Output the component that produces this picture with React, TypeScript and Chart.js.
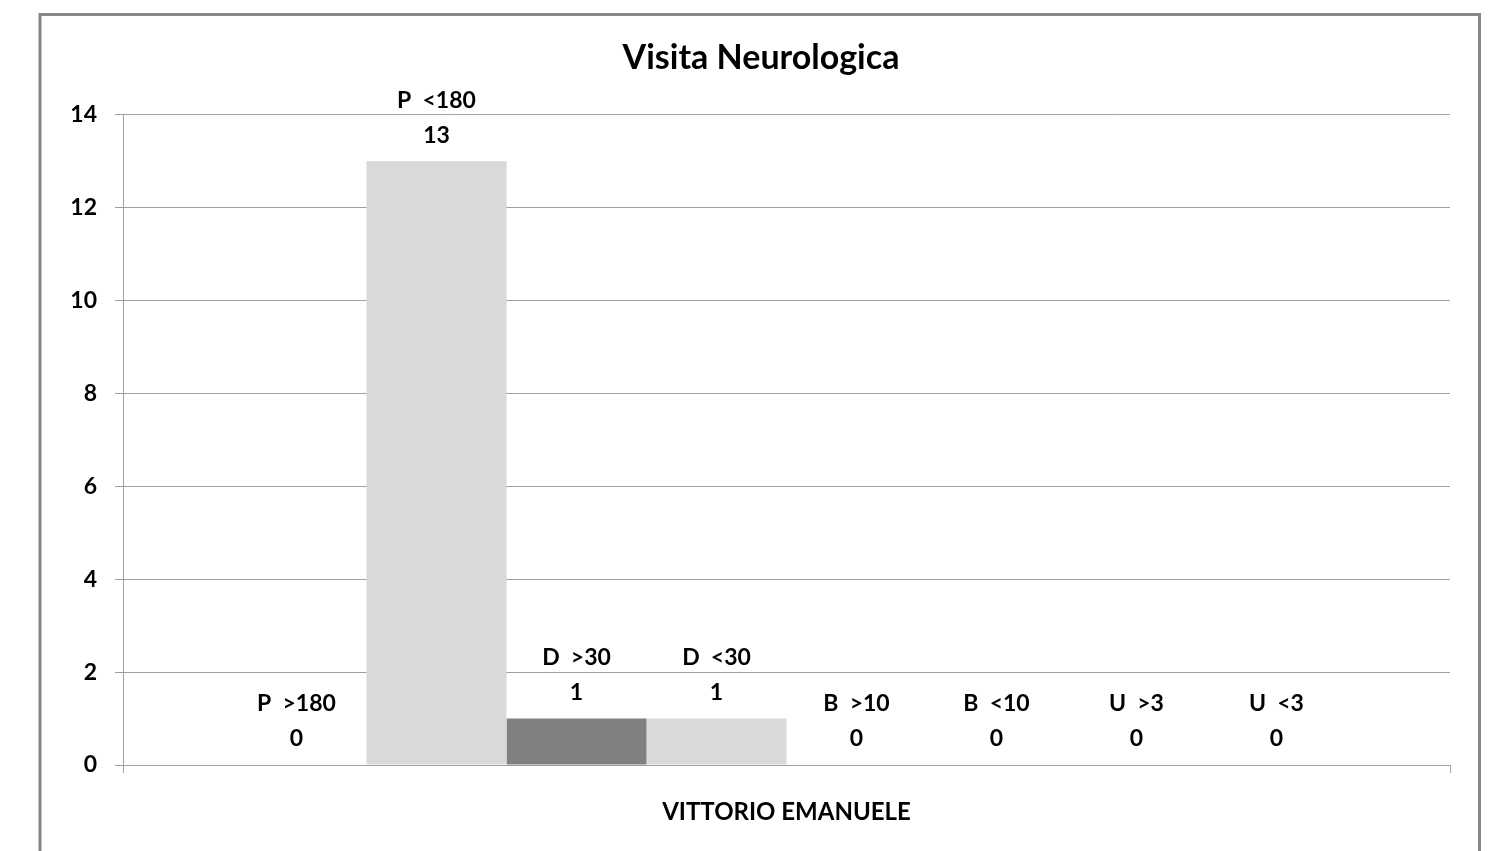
import React, { useEffect, useRef } from "react";
import { Chart, registerables } from "chart.js";

Chart.register(...registerables);

const categories = ["VITTORIO EMANUELE"];
const seriesNames = ["P  >180", "P  <180", "D  >30", "D  <30", "B  >10", "B  <10", "U  >3", "U  <3"];
const seriesValues = [0, 13, 1, 1, 0, 0, 0, 0];
const seriesColors = ["#d9d9d9", "#d9d9d9", "#808080", "#d9d9d9", "#d9d9d9", "#d9d9d9", "#d9d9d9", "#d9d9d9"];
const yTicks = [0, 2, 4, 6, 8, 10, 12, 14];
const chartTitle = "Visita Neurologica";

const FONT = "Lato";

const framePlugin = {
  id: "frame",
  beforeDraw(chart: any) {
    const ctx = chart.ctx;
    ctx.save();
    ctx.fillStyle = "#ffffff";
    ctx.fillRect(0, 0, chart.width, chart.height);
    ctx.strokeStyle = "#878787";
    ctx.lineWidth = 3;
    ctx.strokeRect(40, 14.5, 1439.5, 900);
    ctx.restore();
  },
};

const labelPlugin = {
  id: "barLabels",
  afterDatasetsDraw(chart: any) {
    const ctx = chart.ctx;
    ctx.save();
    ctx.fillStyle = "#000000";
    ctx.textAlign = "center";
    ctx.textBaseline = "middle";
    ctx.font = `bold 23px ${FONT}`;
    chart.data.datasets.forEach((ds: any, i: number) => {
      const meta = chart.getDatasetMeta(i);
      const el = meta.data[0];
      if (!el) return;
      ctx.fillText(String(ds.label), el.x, el.y - 61);
      ctx.fillText(String(ds.data[0]), el.x, el.y - 26);
    });
    ctx.restore();
  },
};

export default function App() {
  const canvasRef = useRef<HTMLCanvasElement | null>(null);

  useEffect(() => {
    if (!canvasRef.current) return;
    const chart = new Chart(canvasRef.current, {
      type: "bar",
      data: {
        labels: categories,
        datasets: seriesNames.map((name, i) => ({
          label: name,
          data: [seriesValues[i]],
          backgroundColor: seriesColors[i],
          borderWidth: 0,
          barPercentage: 1,
          categoryPercentage: 0.844,
        })),
      },
      options: {
        responsive: false,
        animation: false,
        layout: { padding: { left: 72, right: 38, top: 14, bottom: 0 } },
        plugins: {
          legend: { display: false },
          tooltip: { enabled: false },
          title: {
            display: true,
            text: chartTitle,
            color: "#000000",
            font: { family: FONT, size: 34, weight: "bold" },
            padding: { top: 24, bottom: 36 },
          },
        },
        scales: {
          x: {
            grid: { drawOnChartArea: false, color: "#a0a0a0", tickLength: 8, lineWidth: 1 },
            border: { color: "#a0a0a0", width: 1 },
            ticks: {
              color: "#000000",
              font: { family: FONT, size: 24, weight: "bold" },
              padding: 25,
            },
            afterFit(scale: any) {
              scale.height = 86;
            },
          },
          y: {
            min: 0,
            max: 14,
            afterBuildTicks(scale: any) {
              scale.ticks = yTicks.map((v) => ({ value: v }));
            },
            grid: { color: "#a0a0a0", tickLength: 8, lineWidth: 1 },
            border: { color: "#a0a0a0", width: 1 },
            ticks: {
              color: "#000000",
              font: { family: FONT, size: 23, weight: "bold" },
              padding: 18,
            },
            afterFit(scale: any) {
              scale.width = 51;
            },
          },
        },
      },
      plugins: [framePlugin, labelPlugin],
    });
    return () => chart.destroy();
  }, []);

  return (
    <div style={{ position: "absolute", left: 0, top: 0, width: 1488, height: 851 }}>
      <canvas ref={canvasRef} width={1488} height={851} style={{ display: "block" }} />
    </div>
  );
}
